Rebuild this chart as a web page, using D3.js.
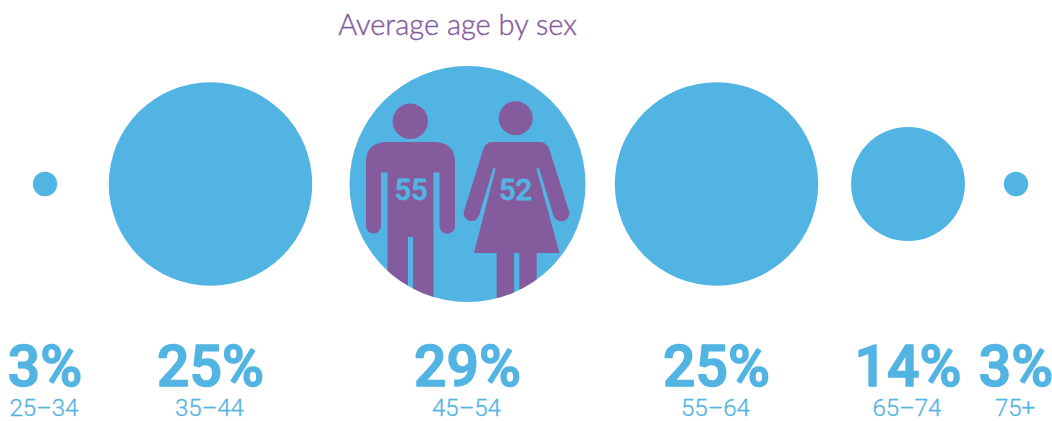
<!DOCTYPE html>
<html>
<head>
<meta charset="utf-8">
<script src="https://d3js.org/d3.v7.min.js"></script>
<style>
  html, body { margin: 0; padding: 0; background: #fff; overflow: hidden; }
  text { font-family: Roboto, sans-serif; text-anchor: middle; }
  .pct { font-weight: 500; font-size: 57px; fill: #52b4e2; stroke: #52b4e2; stroke-width: 1.6px; stroke-linejoin: round; }
  .age { font-weight: 300; font-size: 24px; fill: #52b4e2; stroke: #52b4e2; stroke-width: 0.3px; }
  .title { font-family: Lato, sans-serif; font-weight: 300; font-size: 29px; fill: #845c9e; stroke: #845c9e; stroke-width: 0.4px; }
  .avg { font-weight: 500; font-size: 29px; fill: #52b4e2; stroke: #52b4e2; stroke-width: 0.8px; stroke-linejoin: round; }
</style>
</head>
<body>
<svg id="chart" width="1052" height="421"></svg>
<script>
var ageGroups = ['25\u201334', '35\u201344', '45\u201354', '55\u201364', '65\u201374', '75+'];
var shares = [3, 25, 29, 25, 14, 3];
var sexes = ['Male', 'Female'];
var averageAges = [55, 52];
var titleText = 'Average age by sex';

var blue = '#52b4e2';
var purple = '#845c9e';

var svg = d3.select('#chart');

// circles are not evenly spaced in the original so the centres go in by hand
var x = d3.scaleOrdinal()
  .domain(ageGroups)
  .range([45, 210.5, 467.5, 716.5, 908, 1016]);

// radius runs linear with the value, not the area
var r = d3.scaleLinear()
  .domain([0, 29])
  .range([0, 118]);

var cy = 184;

svg.append('text')
  .attr('class', 'title')
  .attr('x', 457.5)
  .attr('y', 35)
  .text(titleText);

svg.selectAll('.bubble')
  .data(ageGroups)
  .enter().append('circle')
  .attr('class', 'bubble')
  .attr('cx', function(d) { return x(d); })
  .attr('cy', cy)
  .attr('r', function(d, i) { return r(shares[i]); })
  .attr('fill', blue);

svg.selectAll('.pct')
  .data(ageGroups)
  .enter().append('text')
  .attr('class', 'pct')
  .attr('x', function(d) { return x(d); })
  .attr('y', 386)
  .text(function(d, i) { return shares[i] + '%'; });

svg.selectAll('.age')
  .data(ageGroups)
  .enter().append('text')
  .attr('class', 'age')
  .attr('x', function(d) { return x(d) - 1; })
  .attr('y', 416)
  .text(function(d) { return d; });

// figures get cut off by the big circle
var big = ageGroups[shares.indexOf(d3.max(shares))];
svg.append('clipPath')
  .attr('id', 'bigClip')
  .append('circle')
  .attr('cx', x(big))
  .attr('cy', cy)
  .attr('r', r(d3.max(shares)));

var figures = svg.append('g')
  .attr('clip-path', 'url(#bigClip)')
  .attr('fill', purple);

var man = 'M366,162 Q366,142 388,142 L433,142 Q455,142 455,162 L455,226 A7.5,7.5 0 0 1 439.5,226 ' +
  'L439.5,172.5 L433.5,172.5 L433.5,310 L413,310 L413,237 L408,237 L408,310 L387.5,310 L387.5,172.5 ' +
  'L381,172.5 L381,226 A7.5,7.5 0 0 1 366,226 Z';

var woman = 'M492,142 L540,142 Q547,142 549.5,150 L569,211 A7.7,7.7 0 0 1 553.5,215.5 L539,168.3 L536.3,168.3 ' +
  'L559.5,253 L536.7,253 L536.7,310 L519.3,310 L519.3,253 L514,253 L514,310 L496.7,310 L496.7,253 L474,253 ' +
  'L495.7,168.3 L493.3,168.3 L479,215.5 A7.7,7.7 0 0 1 464,211 L483,150 Q485.5,142 492,142 Z';

figures.append('circle').attr('cx', 410.3).attr('cy', 121.3).attr('r', 17.7);
figures.append('path').attr('d', man);
figures.append('circle').attr('cx', 515.7).attr('cy', 118.3).attr('r', 17);
figures.append('path').attr('d', woman);

svg.selectAll('.avg')
  .data(sexes)
  .enter().append('text')
  .attr('class', 'avg')
  .attr('x', function(d) { return d === 'Male' ? 411 : 515.5; })
  .attr('y', 200)
  .text(function(d, i) { return averageAges[i]; });
</script>
</body>
</html>
